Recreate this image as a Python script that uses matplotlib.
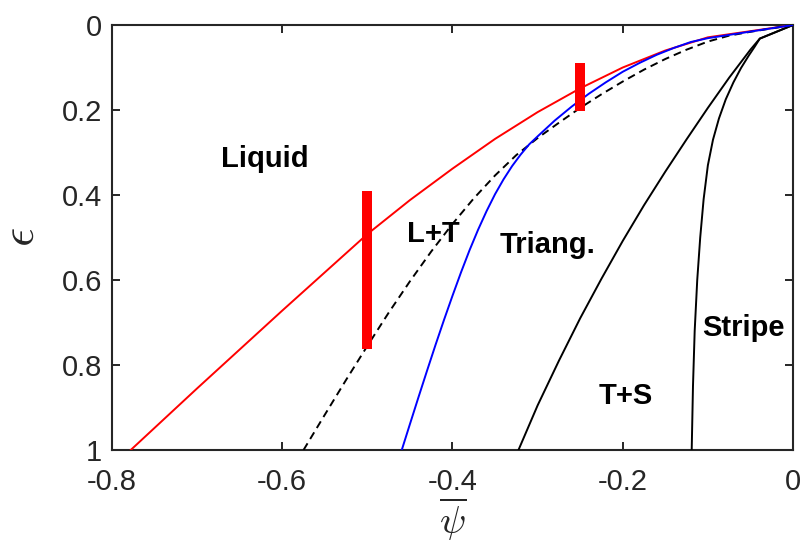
import matplotlib
matplotlib.use("Agg")
import matplotlib.pyplot as plt

plt.rcParams['font.family'] = ['Liberation Sans', 'DejaVu Sans']
plt.rcParams['mathtext.fontset'] = 'cm'

# ---- data (psi_bar, epsilon) ----
red_psi = [-0.778, -0.70, -0.60, -0.50, -0.45, -0.40, -0.35, -0.30, -0.25, -0.20, -0.15, -0.10, 0.0]
red_eps = [1.000, 0.855, 0.672, 0.492, 0.412, 0.338, 0.268, 0.205, 0.149, 0.100, 0.060, 0.029, 0.0]

dash_psi = [-0.575, -0.55, -0.525, -0.50, -0.475, -0.45, -0.425, -0.40, -0.375, -0.35, -0.325, -0.30,
            -0.275, -0.25, -0.225, -0.20, -0.175, -0.15, -0.125, -0.10, -0.075, -0.05, -0.025, 0.0]
dash_eps = [1.000, 0.917, 0.835, 0.755, 0.677, 0.603, 0.533, 0.468, 0.408, 0.354, 0.306, 0.266,
            0.230, 0.195, 0.163, 0.133, 0.105, 0.080, 0.058, 0.039, 0.025, 0.016, 0.008, 0.0]

blue_psi = [-0.4596, -0.45, -0.44, -0.43, -0.42, -0.41, -0.40, -0.39, -0.38, -0.37, -0.36, -0.35, -0.34,
            -0.33, -0.32, -0.31, -0.30, -0.28, -0.26, -0.24, -0.22, -0.20, -0.18, -0.16, -0.14, -0.12, -0.10, 0.0]
blue_eps = [1.000, 0.939, 0.876, 0.814, 0.753, 0.694, 0.637, 0.582, 0.530, 0.482, 0.438, 0.398, 0.363,
            0.332, 0.305, 0.281, 0.262, 0.225, 0.192, 0.162, 0.135, 0.110, 0.089, 0.070, 0.054, 0.040, 0.031, 0.0]

ts_psi = [-0.3225, -0.30, -0.275, -0.25, -0.225, -0.20, -0.175, -0.15, -0.125, -0.10, -0.075, -0.05, -0.039, 0.0]
ts_eps = [1.000, 0.895, 0.790, 0.690, 0.597, 0.508, 0.424, 0.345, 0.269, 0.195, 0.124, 0.058, 0.032, 0.0]

st_psi = [-0.119, -0.1175, -0.1155, -0.1125, -0.109, -0.105, -0.100, -0.094, -0.087, -0.079, -0.070,
          -0.061, -0.052, -0.045, -0.039, 0.0]
st_eps = [1.000, 0.850, 0.720, 0.600, 0.500, 0.410, 0.330, 0.270, 0.220, 0.175, 0.135,
          0.101, 0.072, 0.051, 0.032, 0.0]

bar_psi = [-0.500, -0.2497]
bar_lo = [0.390, 0.090]
bar_hi = [0.762, 0.2016]

region_names = ['Liquid', 'L+T', 'Triang.', 'T+S', 'Stripe']
region_psi = [-0.620, -0.4222, -0.288, -0.197, -0.0585]
region_eps = [0.334, 0.510, 0.536, 0.892, 0.731]

xticks = [-0.8, -0.6, -0.4, -0.2, 0]
xticklabels = ['-0.8', '-0.6', '-0.4', '-0.2', '0']
yticks = [0, 0.2, 0.4, 0.6, 0.8, 1]
yticklabels = ['0', '0.2', '0.4', '0.6', '0.8', '1']

# ---- figure ----
fig = plt.figure(figsize=(8.04, 5.46), dpi=100)
ax = fig.add_axes([112/804, 1-450/546, (793-112)/804, (450-25)/546])

lw = 1.4
ax.plot(red_psi, red_eps, color='#ff0000', lw=lw, zorder=3)
ax.plot(dash_psi, dash_eps, color='black', lw=lw, ls=(0, (4, 2.6)), zorder=3)
ax.plot(blue_psi, blue_eps, color='#0000ff', lw=lw, zorder=4)
ax.plot(ts_psi, ts_eps, color='black', lw=lw, zorder=3)
ax.plot(st_psi, st_eps, color='black', lw=lw, zorder=3)

for xp, lo, hi in zip(bar_psi, bar_lo, bar_hi):
    ax.plot([xp, xp], [lo, hi], color='#ff0000', lw=7.2, solid_capstyle='butt', zorder=5)

for name, xp, yp in zip(region_names, region_psi, region_eps):
    ax.text(xp, yp, name, fontsize=21, fontweight='bold', ha='center', va='baseline', color='black')

ax.set_xlim(-0.8, 0)
ax.set_ylim(1, 0)
ax.set_xticks(xticks)
ax.set_xticklabels(xticklabels)
ax.set_yticks(yticks)
ax.set_yticklabels(yticklabels)

ax.tick_params(direction='in', length=5.5, width=1.4, top=True, right=True,
               labelsize=21, colors='#262626')
ax.tick_params(axis='x', pad=13)
ax.tick_params(axis='y', pad=7)
for s in ax.spines.values():
    s.set_linewidth(1.5)
    s.set_color('#262626')

ax.set_xlabel(r'$\overline{\psi}$', fontsize=28, labelpad=0, color='#262626')
ax.set_ylabel(r'$\epsilon$', fontsize=34, labelpad=13, color='#262626')

fig.savefig('out.png', dpi=100)
